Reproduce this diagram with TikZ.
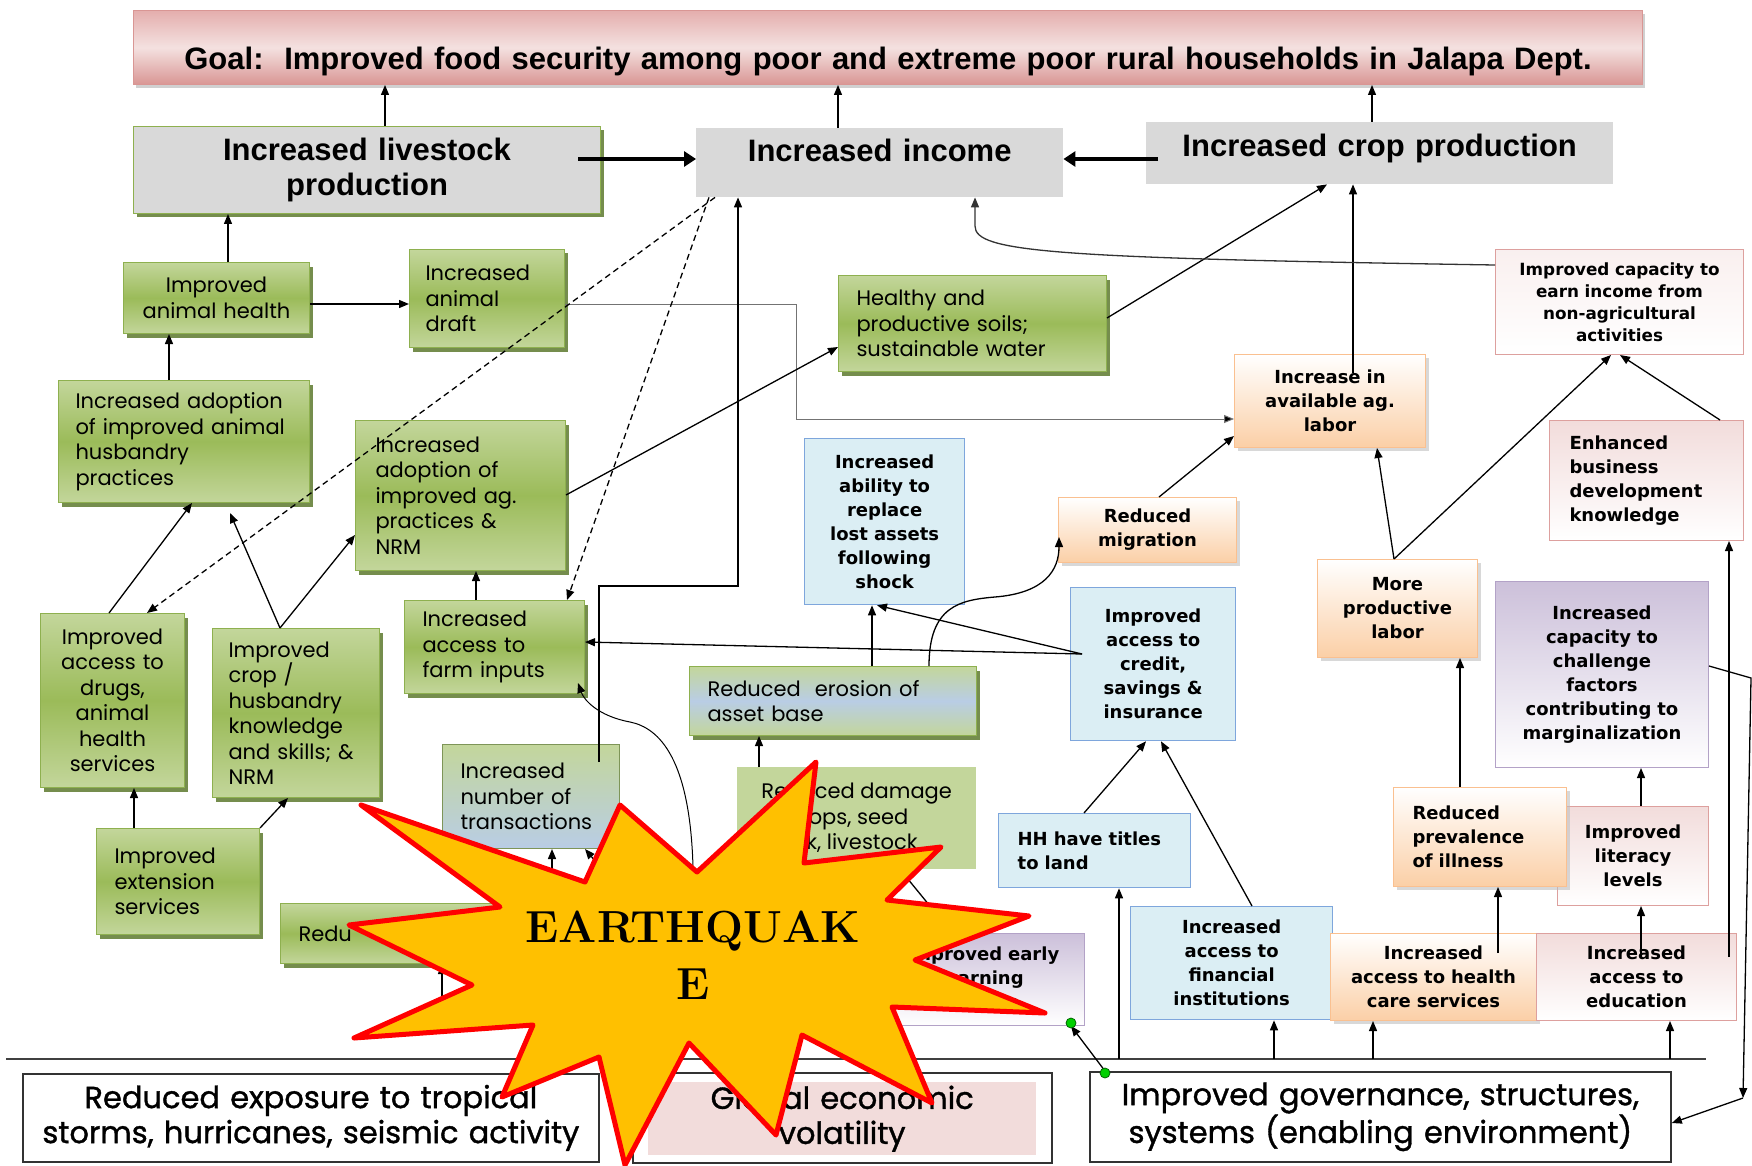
\documentclass[tikz,border=0pt]{standalone}
\usepackage{fontspec}
\usepackage{tikz}
\usetikzlibrary{arrows.meta,shadows}
\newfontfamily\gothic{Poppins}
\newfontfamily\gothicb[FakeBold=1.2]{Poppins}
\newfontfamily\arialf{Liberation Sans}
\newfontfamily\verd{DejaVu Sans}
\newcommand\gtxt{\gothic\fontsize{21}{25.5}\selectfont}
\newcommand\vtxt{\verd\bfseries\fontsize{18}{24}\selectfont}
\newcommand\vsmall{\verd\bfseries\fontsize{16.8}{22}\selectfont}
\newcommand\atxt{\arialf\bfseries\fontsize{31}{35}\selectfont}
\newcommand\btxt{\gothicb\fontsize{30.5}{35}\selectfont}
\newcommand\qtxt{\rmfamily\bfseries\fontsize{45}{57}\selectfont}
\hyphenpenalty=10000
\definecolor{gl}{HTML}{C3D69B}
\definecolor{gd}{HTML}{9BBB59}
\definecolor{gb}{HTML}{8EB04F}
\definecolor{gs}{HTML}{5E7A2E}
\definecolor{lgray}{HTML}{D9D9D9}
\definecolor{bfill}{HTML}{DBEEF4}
\definecolor{bline}{HTML}{7EA6DC}
\definecolor{bmid}{HTML}{B9CDE5}
\definecolor{ofill}{HTML}{FBCFA6}
\definecolor{oline}{HTML}{FAC090}
\definecolor{pfill}{HTML}{F2DCDB}
\definecolor{pline}{HTML}{DDA09E}
\definecolor{ufill}{HTML}{CCC0DA}
\definecolor{uline}{HTML}{B3A2C7}
\definecolor{goaltop}{HTML}{E4AEAD}
\definecolor{goalmid}{HTML}{F4E1E0}
\definecolor{goalbot}{HTML}{D99694}
\definecolor{qfill}{HTML}{FFC000}
\definecolor{qline}{HTML}{FF0000}
\definecolor{dotgreen}{HTML}{00D000}

\begin{document}
\begin{tikzpicture}[
  x=1pt,y=-1pt,
  box/.style={anchor=north west,inner xsep=0pt,inner ysep=0pt,align=center},
  goalbox/.style={box,draw=goalbot,line width=1pt,top color=goaltop,bottom color=goalbot,middle color=goalmid,
    drop shadow={shadow xshift=2pt,shadow yshift=-4pt,fill=black!30,opacity=0.6},font=\atxt},
  graybox/.style={box,fill=lgray,font=\atxt},
  greenbox/.style={box,draw=gb,line width=1pt,top color=gl,bottom color=gl,middle color=gd,
    drop shadow={shadow xshift=3pt,shadow yshift=-4pt,fill=gs,opacity=0.85},font=\gtxt},
  erosionbox/.style={box,draw=gb,line width=1pt,top color=gl,bottom color=gl,middle color=bmid,
    drop shadow={shadow xshift=3pt,shadow yshift=-4pt,fill=gs,opacity=0.85},font=\gtxt},
  mixbox/.style={box,draw=gs!80,line width=1pt,top color=gl,bottom color=bmid,font=\gtxt},
  flatbox/.style={box,fill=gl,font=\gtxt},
  bluebox/.style={box,draw=bline,line width=1.3pt,fill=bfill,font=\vtxt},
  orangebox/.style={box,draw=oline,line width=1pt,top color=white,bottom color=ofill,
    drop shadow={shadow xshift=3pt,shadow yshift=-3pt,fill=black!25,opacity=0.6},font=\vtxt},
  pinkbox/.style={box,draw=pline,line width=1pt,top color=pfill,bottom color=white,font=\vtxt},
  purplebox/.style={box,draw=uline,line width=1pt,top color=ufill,bottom color=white,font=\vtxt},
  plainbox/.style={box,draw=black!80,line width=1.8pt,fill=white,font=\btxt},
  arr/.style={line width=1.3pt,-{Triangle[length=10pt,width=8pt]}},
  greyarr/.style={line width=1pt,draw=black!55,-{Triangle[length=10pt,width=8pt,fill=black]}},
  bigarr/.style={line width=4.5pt,-{Triangle[length=12pt,width=15pt]}},
  dasharr/.style={arr,dash pattern=on 6pt off 4pt},
  quake/.style={fill=qfill,draw=qline,line width=5pt,line join=round}
]
\fill[white] (0,0) rectangle (1752,1166);
\useasboundingbox (0,0) rectangle (1752,1166);

\node[goalbox,text width=1509pt,minimum height=74pt,text height=44pt,text depth=0pt] (goal) at (133,10)
  {Goal:\ \ Improved food security among poor and extreme poor rural households in Jalapa Dept.};
\node[graybox,draw=gb,line width=1pt,drop shadow={shadow xshift=3pt,shadow yshift=-4pt,fill=gs,opacity=0.85},
  text width=467pt,minimum height=87pt] (livestock) at (133,126) {Increased livestock\\production};
\node[graybox,text width=367pt,minimum height=69pt,text height=0pt,text depth=3pt] (income) at (696,128) {Increased income};
\node[graybox,text width=467pt,minimum height=62pt,text height=6pt,text depth=0pt] (crop) at (1146,122) {Increased crop production};

\node[greenbox,text width=186pt,minimum height=71pt] (health) at (123,262) {Improved\\animal health};
\node[greenbox,align=left,inner xsep=16pt,text width=123pt,minimum height=98pt] (draft) at (409,249) {Increased\\animal\\draft};
\node[greenbox,align=left,inner xsep=17pt,text width=217pt,minimum height=122pt] (husb) at (58,380)
  {Increased adoption\\of improved animal\\husbandry\\practices};
\node[greenbox,align=left,inner xsep=20pt,text width=170pt,minimum height=150pt] (agprac) at (355,420)
  {Increased\\adoption of\\improved ag.\\practices \&\\NRM};
\node[greenbox,align=left,inner xsep=18pt,text width=232pt,minimum height=96pt] (soils) at (838,275)
  {Healthy and\\productive soils;\\sustainable water};
\node[greenbox,align=left,inner xsep=18pt,text width=144pt,minimum height=93pt] (inputs) at (404,600)
  {Increased\\access to\\farm inputs};
\node[greenbox,text width=144pt,minimum height=174pt] (drugs) at (40,613)
  {Improved\\access to\\drugs,\\animal\\health\\services};
\node[greenbox,align=left,inner xsep=16pt,text width=135pt,minimum height=169pt] (skills) at (212,628)
  {Improved\\crop /\\husbandry\\knowledge\\and skills; \&\\NRM};
\node[greenbox,align=left,inner xsep=18pt,text width=127pt,minimum height=106pt] (extension) at (96,828)
  {Improved\\extension\\services};
\node[greenbox,align=left,inner xsep=18pt,text width=224pt,minimum height=60pt] (reduced) at (280,903) {Redu};
\node[mixbox,align=left,inner xsep=18pt,text width=141pt,minimum height=104pt] (trans) at (442,744)
  {Increased\\number of\\transactions};
\node[erosionbox,align=left,inner xsep=18pt,text width=251pt,minimum height=69pt] (erosion) at (689,666)
  {Reduced\ \ erosion of\\asset base};
\node[flatbox,align=left,inner xsep=20pt,minimum width=239pt,minimum height=102pt] (damage) at (737,767)
  {Reduced damage\\to crops, seed\\stock, livestock};

\node[bluebox,text width=160pt,minimum height=166pt] (ability) at (804,438)
  {Increased\\ability to\\replace\\lost assets\\following\\shock};
\node[bluebox,text width=165pt,minimum height=153pt] (credit) at (1070,587)
  {Improved\\access to\\credit,\\savings \&\\insurance};
\node[bluebox,align=left,inner xsep=19pt,text width=154pt,minimum height=74pt] (titles) at (998,813)
  {HH have titles\\to land};
\node[bluebox,text width=202pt,minimum height=113pt] (financial) at (1130,906)
  {Increased\\access to\\financial\\institutions};

\node[orangebox,text width=178pt,minimum height=65pt] (migration) at (1058,497) {Reduced\\migration};
\node[orangebox,text width=191pt,minimum height=93pt] (labor) at (1234,354) {Increase in\\available ag.\\labor};
\node[orangebox,text width=160pt,minimum height=98pt] (productive) at (1317,559) {More\\productive\\labor};
\node[orangebox,text width=206pt,minimum height=87pt] (healthcare) at (1330,933)
  {Increased\\access to health\\care services};

\node[pinkbox,top color=pfill!45,font=\vsmall,text width=248pt,minimum height=105pt] (earn) at (1495,249)
  {Improved capacity to\\earn income from\\non-agricultural\\activities};
\node[pinkbox,align=left,inner xsep=20pt,text width=154pt,minimum height=120pt] (business) at (1549,420)
  {Enhanced\\business\\development\\knowledge};
\node[purplebox,text width=213pt,minimum height=186pt] (challenge) at (1495,581)
  {Increased\\capacity to\\challenge\\factors\\contributing to\\marginalization};
\node[pinkbox,text width=151pt,minimum height=99pt] (literacy) at (1557,806) {Improved\\literacy\\levels};
\node[orangebox,align=left,inner xsep=19pt,text width=135pt,minimum height=99pt] (prevalence) at (1393,787)
  {Reduced\\prevalence\\of illness};
\node[pinkbox,text width=200pt,minimum height=87pt] (education) at (1536,933) {Increased\\access to\\education};
\node[purplebox,text width=204pt,minimum height=92pt] (warning) at (880,933) {Improved early\\warning\\system};

\node[plainbox,text width=576pt,minimum height=88pt] (exposure) at (22,1073)
  {Reduced exposure to tropical\\storms, hurricanes, seismic activity};
\node[plainbox,minimum width=419pt,minimum height=90pt] (globalframe) at (632,1072) {};
\node[box,fill=pfill,font=\btxt,text width=388pt,minimum height=73pt] (global) at (648,1082) {Global economic\\volatility};
\node[plainbox,text width=581pt,minimum height=90pt] (governance) at (1089,1071)
  {Improved governance, structures,\\systems (enabling environment)};

\coordinate (divw) at (6,1059);
\coordinate (dive) at (1706,1059);
\coordinate (husbgap) at (230,513);
\coordinate (rcorner) at (1751,678);
\coordinate (rdrop) at (1743,1098);
\coordinate (belowredu) at (442,996);
\coordinate (belowtrans) at (552,880);
\coordinate (belowtransb) at (606,874);
\draw[line width=2.5pt,draw=black!75] (divw) -- (dive);

\draw[arr] (385,0|-livestock.north) -- (385,0|-goal.south);
\draw[arr] (838,0|-income.north) -- (838,0|-goal.south);
\draw[arr] (1372,0|-crop.north) -- (1372,0|-goal.south);
\draw[bigarr] (livestock.east|-0,159) ++(-23,0) -- (income.west|-0,159);
\draw[bigarr] (crop.west|-0,159) ++(12,0) -- (income.east|-0,159);
\draw[arr] (228,0|-health.north) -- (228,0|-livestock.south);
\draw[arr] (health.east|-0,304) -- (draft.west|-0,304);
\draw[greyarr] (draft.east|-0,304) -| (796,419) -- (labor.west|-0,419);
\draw[arr] (169,0|-husb.north) -- (169,0|-health.south);
\draw[arr] (agprac.east|-0,495) -- (soils.west|-0,347);
\draw[arr] (soils.east|-0,318) -- (1327,0|-crop.south);
\draw[arr] (1353,0|-labor.north) ++(0,19) -- (1353,0|-crop.south);
\draw[arr,draw=black!80] (earn.west|-0,265) .. controls (1050,258) and (975,252) .. (975,226) -- (975,0|-income.south);
\draw[arr] (1720,0|-business.north) -- (1620,0|-earn.south);
\draw[arr] (1394,0|-productive.north) -- (1377,0|-labor.south);
\draw[arr] (1394,0|-productive.north) -- (1611,0|-earn.south);
\draw[arr] (1159,0|-migration.north) -- (labor.west|-0,436);
\draw[arr] (872,0|-erosion.north) -- (872,0|-ability.south);
\draw[arr] (credit.west|-0,654) ++(12,0) -- (877,0|-ability.south);
\draw[arr] (credit.west|-0,654) ++(12,0) -- (inputs.east|-0,642);
\draw[arr] (929,0|-erosion.north) .. controls (929,606) and (960,600) .. (995,597)
  .. controls (1045,593) and (1059,570) .. (1059,537);
\draw[dasharr] (715,0|-income.south) -- (147,0|-drugs.north);
\draw[dasharr] (709,0|-income.south) -- (567,0|-inputs.north);
\draw[arr] (599,0|-trans.north) ++(0,18) -- (599,586) -| (738,0|-income.south);
\draw[arr] (109,0|-drugs.north) -- (192,0|-husb.south);
\draw[arr] (280,0|-skills.north) -- (husbgap);
\draw[arr] (280,0|-skills.north) -- (agprac.west|-0,535);
\draw[arr] (134,0|-extension.north) -- (134,0|-drugs.south);
\draw[arr] (extension.north east) -- (288,0|-skills.south);
\draw[arr] (476,0|-inputs.north) -- (476,0|-agprac.south);
\draw[arr] (belowredu) -- (442,0|-reduced.south);
\draw[arr] (belowtrans) -- (552,0|-trans.south);
\draw[arr] (belowtransb) -- (585,0|-trans.south);
\draw[arr,line width=1pt] (693,0|-warning.north) ++(0,-66) .. controls (690,760) and (660,728) .. (630,722)
  .. controls (598,716) and (584,700) .. (578,683);
\draw[arr] (759,0|-damage.north) -- (759,0|-erosion.south);
\draw[arr] (952,0|-warning.north) -- (900,0|-damage.south);
\draw[arr] (1084,0|-titles.north) -- (1146,0|-credit.south);
\draw[arr] (1252,0|-financial.north) -- (1161,0|-credit.south);
\draw[arr] (1119,0|-divw) -- (1119,0|-titles.south);
\draw[arr] (1274,0|-divw) -- (1274,0|-financial.south);
\draw[arr] (1373,0|-divw) -- (1373,0|-healthcare.south);
\draw[arr] (1670,0|-divw) -- (1670,0|-education.south);
\draw[arr] (1498,0|-healthcare.north) ++(0,20) -- (1498,0|-prevalence.south);
\draw[arr] (1460,0|-prevalence.north) -- (1460,0|-productive.south);
\draw[arr] (1641,0|-education.north) ++(0,24) -- (1641,0|-literacy.south);
\draw[arr] (1641,0|-literacy.north) -- (1641,0|-challenge.south);
\draw[arr] (1729,0|-education.north) ++(0,24) -- (1729,0|-business.south);
\draw[arr] (challenge.east|-0,666) -- (rcorner) -- (rdrop);
\draw[arr] (rdrop) -- (governance.east|-0,1123);
\draw[arr] (1105,0|-governance.north) -- (1071,0|-warning.south);

\draw[quake] (361,805) -- (585,882) -- (620,805) -- (697,872) -- (816,762) -- (804,863) -- (941,847)
  -- (887,900) -- (1029,916) -- (915,960) -- (1045,1013) -- (892,1007) -- (932,1103) -- (802,1035)
  -- (776,1135) -- (689,1043) -- (625,1165) -- (599,1057) -- (502,1097) -- (533,1025) -- (354,1038)
  -- (472,985) -- (349,925) -- (500,907) -- cycle;
\node[font=\qtxt,align=center] (quaketext) at (693,955) {EARTHQUAK\\E};

\fill[dotgreen,draw=green!40!black,line width=0.8pt] (1071,0|-warning.south) ++(0,-3) circle (5);
\fill[dotgreen,draw=green!40!black,line width=0.8pt] (1105,0|-governance.north) ++(0,2) circle (5);
\end{tikzpicture}
\end{document}
